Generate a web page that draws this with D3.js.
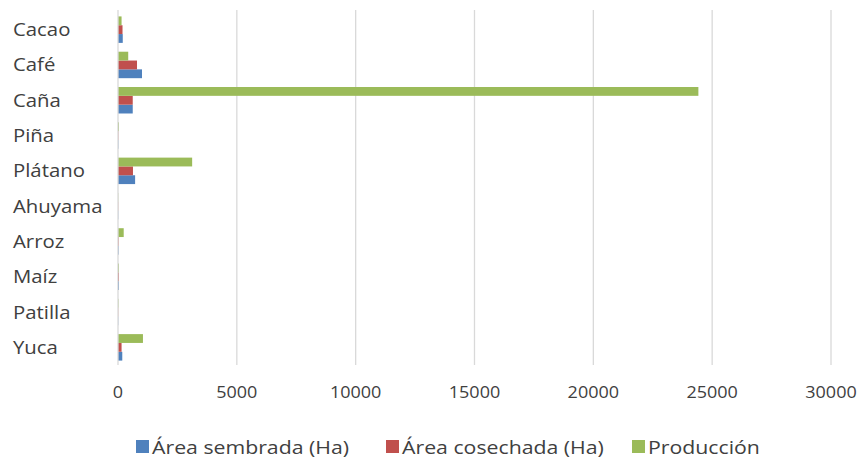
<!DOCTYPE html>
<html>
<head>
<meta charset="utf-8">
<script src="https://d3js.org/d3.v7.min.js"></script>
<style>
  body { margin: 0; background: #fff; }
  text { font-family: "Open Sans", sans-serif; fill: #404040; }
</style>
</head>
<body>
<svg id="chart" width="863" height="459"></svg>
<script>
// data
const cultivos = ['Cacao', 'Café', 'Caña', 'Piña', 'Plátano', 'Ahuyama', 'Arroz', 'Maíz', 'Patilla', 'Yuca'];
const areaSembrada = [200, 1010, 620, 15, 720, 10, 25, 40, 10, 180];
const areaCosechada = [190, 800, 620, 15, 630, 10, 25, 40, 10, 150];
const produccion = [150, 430, 24420, 40, 3120, 10, 240, 40, 20, 1050];
const series = ['Área sembrada (Ha)', 'Área cosechada (Ha)', 'Producción'];
const colores = ['#4F81BD', '#C0504D', '#9BBB59'];
const ticks = [0, 5000, 10000, 15000, 20000, 25000, 30000];

const svg = d3.select('#chart');
const margin = {top: 12, left: 118, right: 32, bottom: 94};
const W = 863, H = 459;

const x = d3.scaleLinear()
    .domain([0, 30000])
    .range([margin.left, W - margin.right]);

const y = d3.scaleBand()
    .domain(cultivos)
    .range([margin.top, H - margin.bottom])
    .paddingInner(0.25)
    .paddingOuter(0.125);

// inside a group: bottom = first series, top = last
const y2 = d3.scaleBand()
    .domain(['2', '1', '0'])
    .range([0, y.bandwidth()]);

// gridlines
svg.append('g')
    .selectAll('line')
    .data(ticks.slice(1))
    .join('line')
    .attr('x1', d => x(d)).attr('x2', d => x(d))
    .attr('y1', 10).attr('y2', H - margin.bottom)
    .style('stroke', '#d9d9d9')
    .style('stroke-width', 1.3);

const valores = [areaSembrada, areaCosechada, produccion];
const filas = cultivos.map((c, i) => ({c, v: valores.map(s => s[i])}));

const grupos = svg.append('g')
    .selectAll('g')
    .data(filas)
    .join('g')
    .attr('transform', d => `translate(0,${y(d.c)})`);

grupos.selectAll('rect')
    .data(d => d.v.map((v, k) => ({v, k})))
    .join('rect')
    .attr('x', x(0))
    .attr('y', d => y2(String(d.k)))
    .attr('height', y2.bandwidth())
    .attr('width', d => x(d.v) - x(0))
    .style('fill', d => colores[d.k]);

// vertical axis line
svg.append('line')
    .attr('x1', x(0)).attr('x2', x(0))
    .attr('y1', 10).attr('y2', H - margin.bottom)
    .style('stroke', '#d9d9d9')
    .style('stroke-width', 1.3);

// category labels (text in the original is a bit stretched sideways)
svg.append('g')
    .selectAll('text')
    .data(cultivos)
    .join('text')
    .attr('transform', d => `translate(13,${y(d) + y.bandwidth() / 2}) scale(1.1,1)`)
    .attr('dy', '0.35em')
    .style('font-size', '18.5px')
    .text(d => d);

// tick labels
svg.append('g')
    .selectAll('text')
    .data(ticks)
    .join('text')
    .attr('transform', d => `translate(${x(d)},392) scale(1.06,1)`)
    .attr('dy', '0.35em')
    .attr('text-anchor', 'middle')
    .style('font-size', '17px')
    .text(d => d);

// legend
const legX = [136, 386, 632];
const leg = svg.append('g')
    .selectAll('g')
    .data(series)
    .join('g')
    .attr('transform', (d, i) => `translate(${legX[i]},440)`);
leg.append('rect')
    .attr('width', 13).attr('height', 13)
    .style('fill', (d, i) => colores[i]);
leg.append('text')
    .attr('transform', 'translate(16,7) scale(1.12,1)')
    .attr('dy', '0.35em')
    .style('font-size', '19px')
    .text(d => d);
</script>
</body>
</html>
